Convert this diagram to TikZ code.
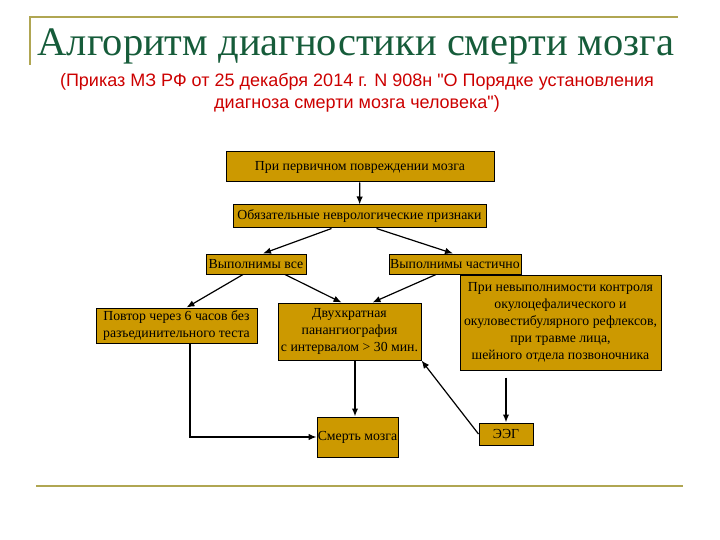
\documentclass[tikz,border=0pt]{standalone}
\usepackage{fontspec}
\setmainfont{Liberation Serif}
\newfontfamily\arialfont{Liberation Sans}
\usetikzlibrary{arrows.meta}
\definecolor{boxfill}{RGB}{204,153,0}
\definecolor{decoline}{RGB}{176,166,82}
\definecolor{titlegreen}{RGB}{22,92,58}
\definecolor{orderred}{RGB}{204,0,0}

\begin{document}
\begin{tikzpicture}[x=1pt, y=-1pt,
    box/.style={draw, fill=boxfill, line width=1pt, inner sep=0pt, align=center,
      font=\fontsize{13.8}{17}\selectfont},
    arr/.style={-{Latex[length=8pt,width=6.5pt]}, line width=1.2pt},
    deco/.style={decoline, line width=2pt}]
    \useasboundingbox (0,0) rectangle (720,540);

    % frame lines
    \draw[deco] (30,65) -- (30,17) -- (678,17);
    \draw[deco] (36,486) -- (683,486);

    % heading
    \node[titlegreen, font=\fontsize{40.5}{42}\selectfont] (title) at (356,46) {Алгоритм диагностики смерти мозга};
    \node[orderred, align=center, font=\arialfont\fontsize{18}{21.5}\selectfont] (order) at (357,93)
      {(Приказ МЗ РФ от 25 декабря 2014 г. N 908н "О Порядке установления\\диагноза смерти мозга человека")};

    % boxes
    \node[box, minimum width=268, minimum height=30] (first) at (360,167) {При первичном повреждении мозга};
    \node[box, minimum width=253, minimum height=23] (signs) at (359.5,216.5) {Обязательные неврологические признаки};
    \node[box, minimum width=100, minimum height=20] (all) at (256,264) {Выполнимы все};
    \node[box, minimum width=132, minimum height=20] (part) at (455,264) {Выполнимы частично};
    \node[box, minimum width=161, minimum height=35] (repeat) at (176.5,325.5) {Повтор через 6 часов без\\разъединительного теста};
    \node[box, minimum width=143, minimum height=57] (angio) at (349.5,331.5) {Двухкратная\\панангиография\\с интервалом > 30 мин.};
    \node[box, minimum width=201, minimum height=95] (fail) at (560.5,322.5)
      {При невыполнимости контроля\\окулоцефалического и\\окуловестибулярного рефлексов,\\при травме лица,\\шейного отдела позвоночника};
    \node[box, minimum width=81, minimum height=40] (death) at (357.5,437) {Смерть мозга};
    \node[box, minimum width=54, minimum height=22] (eeg) at (506,434) {ЭЭГ};

    % arrows
    \draw[arr] (first) -- (signs);
    \draw[arr] ([xshift=-28pt]signs.south) -- ([xshift=7pt]all.north);
    \draw[arr] ([xshift=17pt]signs.south) -- ([xshift=-2pt]part.north);
    \draw[arr] ([xshift=-13pt]all.south) -- ([xshift=10pt]repeat.north);
    \draw[arr] ([xshift=29pt]all.south) -- ([xshift=-8pt]angio.north);
    \draw[arr] ([xshift=-19pt]part.south) -- ([xshift=23pt]angio.north);
    \draw[arr, line width=1.7pt] ([xshift=5.5pt]angio.south) -- ([xshift=-2.5pt]death.north);
    \draw[arr] ([xshift=13.5pt]repeat.south) |- (death.west);
    \draw[arr, line width=1.7pt, shorten <=7pt] (eeg.north |- fail.south) -- (eeg.north);
    \draw[arr] (eeg.west) -- (angio.south east);

  \end{tikzpicture}
\end{document}
